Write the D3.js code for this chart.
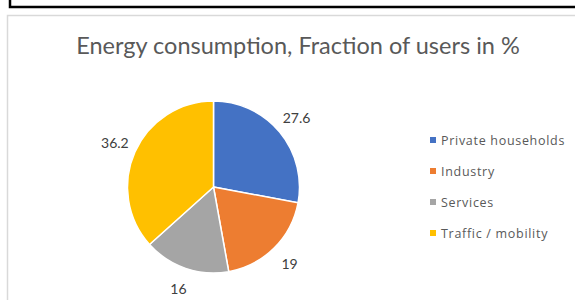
<!DOCTYPE html>
<html>
<head>
<meta charset="utf-8">
<script src="https://cdn.jsdelivr.net/npm/d3@7"></script>
<style>
  body { margin: 0; background: #fff; }
  svg { display: block; font-family: Lato, "Open Sans", sans-serif; }
</style>
</head>
<body>
<div id="canvas"></div>
<script>
// datos del gráfico
var sectores = ["Private households", "Industry", "Services", "Traffic / mobility"];
var valores = [27.6, 19, 16, 36.2];
var colores = ["#4472c4", "#ed7d31", "#a5a5a5", "#ffc000"];
var titulo = "Energy consumption, Fraction of users in %";

var width = 575;
var height = 300;

var svg = d3.select("#canvas").append("svg")
    .attr("width", width)
    .attr("height", height);

// recuadro negro de arriba
svg.append("path")
    .attr("d", "M10,0 V7 H575")
    .attr("fill", "none")
    .attr("stroke", "#000")
    .attr("stroke-width", 2.5);

// borde del área del gráfico
svg.append("rect")
    .attr("x", 7.5)
    .attr("y", 15.5)
    .attr("width", 600)
    .attr("height", 320)
    .attr("fill", "#fff")
    .attr("stroke", "#d9d9d9")
    .attr("stroke-width", 1.5);

svg.append("text")
    .attr("x", 298)
    .attr("y", 54)
    .attr("text-anchor", "middle")
    .attr("font-size", "23.5px")
    .attr("fill", "#595959")
    .text(titulo);

var datos = sectores.map(function(s, i) { return { nombre: s, valor: valores[i] }; });

var pie = d3.pie()
    .sort(null)
    .value(function(d) { return d.valor; });

var radio = 86;
var arco = d3.arc().innerRadius(0).outerRadius(radio);
var arcoEtiqueta = d3.arc().innerRadius(108).outerRadius(108);

var color = d3.scaleOrdinal().domain(sectores).range(colores);

var g = svg.append("g")
    .attr("transform", "translate(213.5,187)");

g.selectAll(".porcion")
    .data(pie(datos))
    .enter().append("path")
    .attr("class", "porcion")
    .attr("d", arco)
    .attr("fill", function(d) { return color(d.data.nombre); })
    .attr("stroke", "#fff")
    .attr("stroke-width", 1.5);

g.selectAll(".valor")
    .data(pie(datos))
    .enter().append("text")
    .attr("class", "valor")
    .attr("transform", function(d) { return "translate(" + arcoEtiqueta.centroid(d) + ")"; })
    .attr("text-anchor", "middle")
    .attr("dy", "0.35em")
    .attr("font-size", "14px")
    .attr("fill", "#404040")
    .text(function(d) { return d.data.valor; });

var leyenda = svg.append("g")
    .attr("transform", "translate(430,140)");

var fila = leyenda.selectAll(".fila")
    .data(sectores)
    .enter().append("g")
    .attr("class", "fila")
    .attr("transform", function(d, i) { return "translate(0," + (i * 31) + ")"; });

fila.append("rect")
    .attr("x", 0)
    .attr("y", -3)
    .attr("width", 6)
    .attr("height", 6)
    .attr("fill", function(d) { return color(d); });

fila.append("text")
    .attr("x", 11)
    .attr("y", 4.5)
    .attr("font-family", "'Open Sans', sans-serif")
    .attr("font-size", "12.5px")
    .attr("letter-spacing", "0.7px")
    .attr("fill", "#595959")
    .text(function(d) { return d; });
</script>
</body>
</html>
